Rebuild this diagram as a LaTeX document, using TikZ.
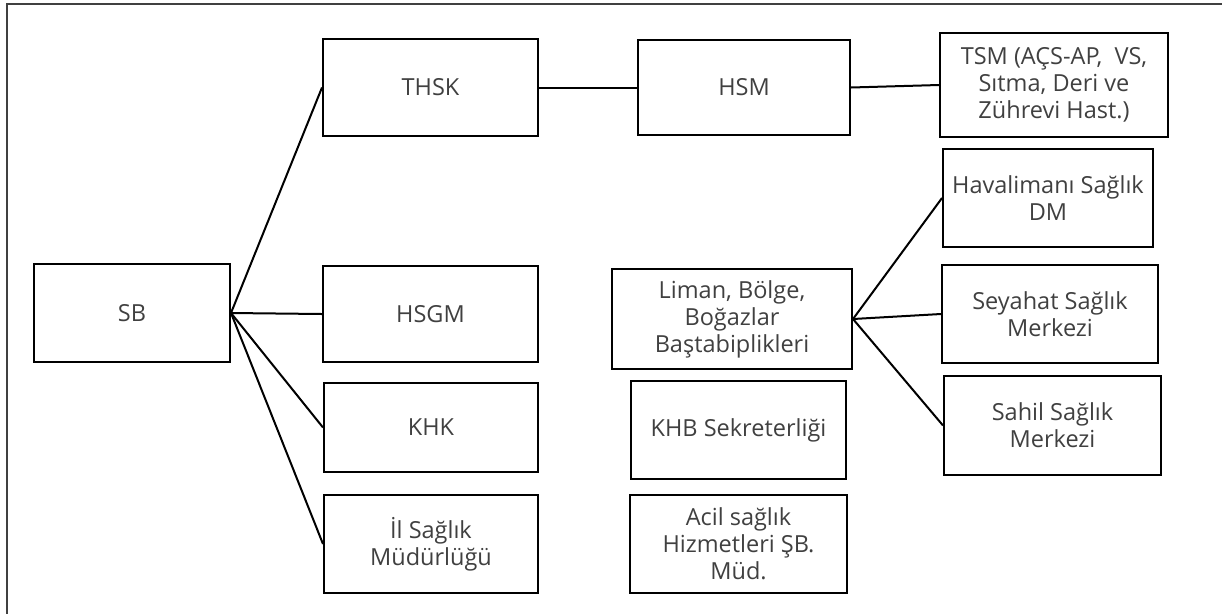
\documentclass[tikz,border=0pt]{standalone}
\usepackage{fontspec}
\setmainfont{Open Sans}
\usetikzlibrary{arrows.meta}
\usepackage{xcolor}

\begin{document}
\begin{tikzpicture}[x=1pt, y=-1pt, line width=2pt,
    every node/.style={rectangle, draw, line width=2pt, align=center, inner sep=2pt, text=black!75, font=\fontsize{23.5}{27}\selectfont}]
    \useasboundingbox (0,0) rectangle (1222,614);
    \draw[black!75] (1222,4) -| (7,614);
    \node[minimum width=196pt, minimum height=98pt] (sb) at (132,313) {SB};
    \node[minimum width=215pt, minimum height=97pt] (thsk) at (430.5,87.5) {THSK};
    \node[minimum width=215pt, minimum height=96pt] (hsgm) at (430.5,314) {HSGM};
    \node[minimum width=214pt, minimum height=89pt] (khk) at (431,427.5) {KHK};
    \node[minimum width=214pt, minimum height=98pt] (il) at (431,544) {İl Sağlık\\Müdürlüğü};
    \node[minimum width=212pt, minimum height=95pt] (hsm) at (744,87.5) {HSM};
    \node[minimum width=228pt, minimum height=104pt] (tsm) at (1054,85) {TSM (AÇS-AP,\ \ VS,\\Sıtma, Deri ve\\Zührevi Hast.)};
    \node[minimum width=240pt, minimum height=100pt] (liman) at (732,319) {Liman, Bölge,\\Boğazlar\\Baştabiplikleri};
    \node[minimum width=215pt, minimum height=98pt] (khb) at (738.5,430) {KHB Sekreterliği};
    \node[minimum width=217pt, minimum height=98pt] (acil) at (738.5,544) {Acil sağlık\\Hizmetleri ŞB.\\Müd.};
    \node[minimum width=210pt, minimum height=98pt] (hava) at (1048,198) {Havalimanı Sağlık\\DM};
    \node[minimum width=216pt, minimum height=98pt] (seya) at (1050,314) {Seyahat Sağlık\\Merkezi};
    \node[minimum width=217pt, minimum height=99pt] (sahil) at (1052.5,425.5) {Sahil Sağlık\\Merkezi};
        \draw (sb.east) -- (thsk.west);
        \draw (sb.east) -- (hsgm.west);
        \draw (sb.east) -- (khk.west);
        \draw (sb.east) -- (il.west);
        \draw (thsk.east) -- (hsm.west);
        \draw (hsm.east) -- (tsm.west);
        \draw (liman.east) -- (hava.west);
        \draw (liman.east) -- (seya.west);
        \draw (liman.east) -- (sahil.west);
\end{tikzpicture}
\end{document}
